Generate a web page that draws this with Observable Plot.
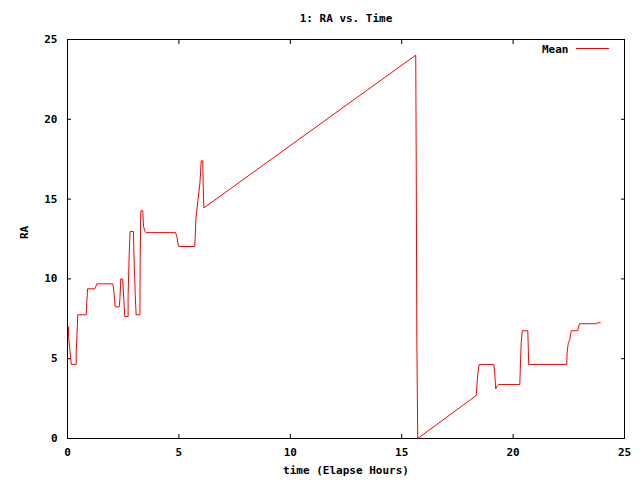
<!DOCTYPE html>
<html>
<head>
<meta charset="utf-8">
<script src="https://cdn.jsdelivr.net/npm/d3@7"></script>
<script src="https://cdn.jsdelivr.net/npm/@observablehq/plot@0.6"></script>
<style>
  html, body { margin: 0; padding: 0; background: #fff; }
  #chart { position: relative; width: 640px; height: 480px; }
</style>
</head>
<body>
<div id="chart"></div>
<script>
const titleText = "1: RA vs. Time";
const xLabel = "time (Elapse Hours)";
const yLabel = "RA";
const seriesName = "Mean";
const xTicks = [0, 5, 10, 15, 20, 25];
const yTicks = [0, 5, 10, 15, 20, 25];

const times = [
  0.00, 0.045, 0.045, 0.13, 0.17, 0.39, 0.39, 0.44, 0.46, 0.84, 0.87, 0.90,
  1.23, 1.27, 1.32, 2.03, 2.08, 2.11, 2.14, 2.32, 2.35, 2.38, 2.39, 2.47,
  2.50, 2.53, 2.57, 2.72, 2.72, 2.77, 2.81, 2.96, 2.98, 3.04, 3.08, 3.25,
  3.26, 3.29, 3.38, 3.41, 3.47, 3.53, 4.85, 4.92, 4.95, 5.00, 5.71, 5.73,
  5.76, 5.80, 5.85, 5.94, 5.97, 6.00, 6.07, 6.09, 6.12, 15.63, 15.65, 15.68,
  15.72, 18.34, 18.37, 18.42, 18.48, 19.13, 19.17, 19.20, 19.22, 19.29, 19.35, 20.30,
  20.32, 20.36, 20.41, 20.66, 20.68, 20.70, 22.41, 22.42, 22.47, 22.54, 22.61, 22.90,
  22.93, 22.98, 23.74, 23.77, 23.91
];
const raValues = [
  7.00, 7.00, 6.40, 5.20, 4.64, 4.64, 5.40, 6.97, 7.75, 7.75, 8.60, 9.38,
  9.38, 9.52, 9.69, 9.69, 9.30, 8.70, 8.25, 8.25, 8.70, 9.54, 10.00, 10.00,
  9.44, 8.65, 7.64, 7.64, 8.96, 11.57, 12.97, 12.97, 11.63, 9.02, 7.75, 7.75,
  11.05, 14.27, 14.27, 13.30, 12.99, 12.90, 12.90, 12.60, 12.26, 12.03, 12.03, 12.60,
  13.70, 14.27, 14.85, 15.96, 16.58, 17.40, 17.40, 15.96, 14.45, 24.02, 18.07, 6.03,
  0.00, 2.69, 3.21, 4.11, 4.64, 4.64, 4.22, 3.53, 3.11, 3.30, 3.38, 3.38,
  4.22, 5.93, 6.75, 6.75, 5.72, 4.64, 4.64, 5.30, 5.93, 6.18, 6.75, 6.75,
  6.94, 7.19, 7.19, 7.25, 7.25
];

const data = times.map((t, i) => ({t, ra: raValues[i]}));

const W = 640, H = 480;
const mL = 67, mR = 16, mT = 39, mB = 42;
const font = "'DejaVu Sans Mono', monospace";

const plot = Plot.plot({
  width: W,
  height: H,
  marginLeft: mL,
  marginRight: mR,
  marginTop: mT,
  marginBottom: mB,
  style: {fontFamily: font, fontSize: "11px", fontWeight: "bold", color: "#000", background: "#fff"},
  x: {domain: [0, 25]},
  y: {domain: [0, 25]},
  marks: [
    Plot.frame({stroke: "#000", strokeWidth: 1}),
    Plot.axisX(xTicks, {anchor: "bottom", tickSize: -4, tickPadding: 14, label: null, stroke: "#000", fill: "#000"}),
    Plot.axisX(xTicks, {anchor: "top", tickSize: -4, tickFormat: () => "", label: null, stroke: "#000"}),
    Plot.axisY(yTicks, {anchor: "left", tickSize: -4, tickPadding: 14, label: null, stroke: "#000", fill: "#000"}),
    Plot.axisY(yTicks, {anchor: "right", tickSize: -4, tickFormat: () => "", label: null, stroke: "#000"}),
    Plot.line(data, {x: "t", y: "ra", stroke: "#ff0000", strokeWidth: 1}),
    Plot.text([titleText], {frameAnchor: "top", lineAnchor: "middle", dy: -21, fill: "#000"}),
    Plot.text([xLabel], {frameAnchor: "bottom", lineAnchor: "middle", dy: 32, fill: "#000"}),
    Plot.text([yLabel], {frameAnchor: "left", lineAnchor: "middle", dx: -43, rotate: -90, fill: "#000"}),
    Plot.text([seriesName], {frameAnchor: "top-right", lineAnchor: "middle", dx: -56, dy: 10, textAnchor: "end", fill: "#000"})
  ]
});

// legend sample line next to "Mean"
d3.select(plot).append("line")
  .attr("x1", W - mR - 48).attr("x2", W - mR - 15)
  .attr("y1", mT + 9.5).attr("y2", mT + 9.5)
  .attr("stroke", "#ff0000").attr("stroke-width", 1);

document.getElementById("chart").appendChild(plot);
</script>
</body>
</html>
